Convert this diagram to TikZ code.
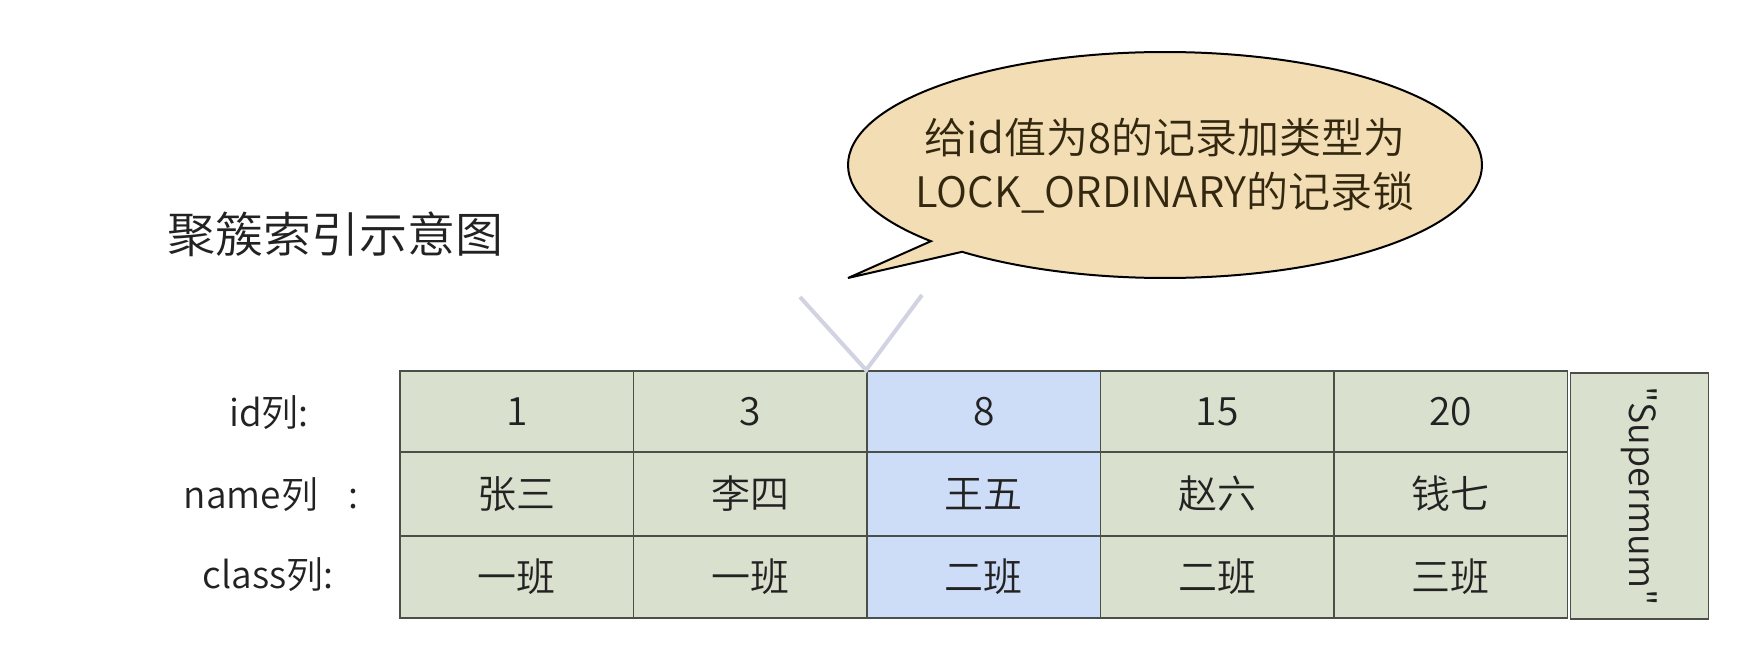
\documentclass[tikz,border=0pt]{standalone}
\usepackage{fontspec}
\setmainfont{Noto Sans CJK SC}[UprightFont=* DemiLight, Ligatures=TeXOff]
\definecolor{cellfill}{HTML}{D9E0CD}
\definecolor{hifill}{HTML}{CEDDF7}
\definecolor{cellline}{HTML}{4A4F48}
\definecolor{txt}{HTML}{222222}
\definecolor{bubfill}{HTML}{F2DDB5}
\definecolor{bubtxt}{HTML}{33280F}
\definecolor{vline}{HTML}{D2D3E2}
\begin{document}
\begin{tikzpicture}[x=1pt,y=-1pt,
  cell/.style={draw=cellline, line width=1.8pt, fill=cellfill, minimum width=233.5pt,
    inner sep=0pt, text=txt, font=\fontsize{39}{42}\selectfont},
  hcell/.style={cell, fill=hifill},
  rowa/.style={minimum height=81pt},
  rowb/.style={minimum height=84pt},
  rowc/.style={minimum height=82pt},
  lab/.style={text=txt, font=\fontsize{37}{40}\selectfont, inner sep=0pt},
  bubble/.style={draw=black, line width=2pt, fill=bubfill, line join=miter},
  vmark/.style={draw=vline, line width=4pt}
]
\useasboundingbox (0,0) rectangle (1760,650);
\fill[white] (0,0) rectangle (1760,650);

% title
\node[text=txt, font=\fontsize{48}{52}\selectfont, inner sep=0pt] (title) at (335,234) {聚簇索引示意图};

% speech bubble
\coordinate (tip) at (848,278);
\draw[bubble] (tip) -- ([shift={(1165,165)}]137.6:317 and 113)
  arc[start angle=137.6, end angle=489.8, x radius=317, y radius=113] -- cycle;
\node[align=center, text=bubtxt, font=\fontsize{42}{54}\selectfont, inner sep=0pt] (btxt) at (1165,166)
  {给id值为8的记录加类型为\\LOCK\_ORDINARY的记录锁};

% row labels
\node[lab] (lid) at (269,413) {id列:};
\node[lab] (lname) at (271,495) {name列\hspace{30pt}:};
\node[lab] (lclass) at (268,575) {class列:};

% row 1
\node[cell,rowa] (a1) at (516.75,411.5) {1};
\node[cell,rowa] (a2) at (750.25,411.5) {3};
\node[hcell,rowa] (a3) at (983.75,411.5) {8};
\node[cell,rowa] (a4) at (1217.25,411.5) {15};
\node[cell,rowa] (a5) at (1450.75,411.5) {20};
% row 2
\node[cell,rowb] (b1) at (516.75,494) {张三};
\node[cell,rowb] (b2) at (750.25,494) {李四};
\node[hcell,rowb] (b3) at (983.75,494) {王五};
\node[cell,rowb] (b4) at (1217.25,494) {赵六};
\node[cell,rowb] (b5) at (1450.75,494) {钱七};
% row 3
\node[cell,rowc] (c1) at (516.75,577) {一班};
\node[cell,rowc] (c2) at (750.25,577) {一班};
\node[hcell,rowc] (c3) at (983.75,577) {二班};
\node[cell,rowc] (c4) at (1217.25,577) {二班};
\node[cell,rowc] (c5) at (1450.75,577) {三班};

% supremum record
\node[cell, rotate=-90, minimum width=246pt, minimum height=138pt, font=\fontsize{36}{40}\selectfont]
  (sup) at (1639.5,496) {"Supermum"};

% V mark pointing at the record
\coordinate (vl) at (800,297);
\coordinate (vr) at (922,295);
\draw[vmark] (vl) -- (a3.north west) -- (vr);
\end{tikzpicture}
\end{document}
